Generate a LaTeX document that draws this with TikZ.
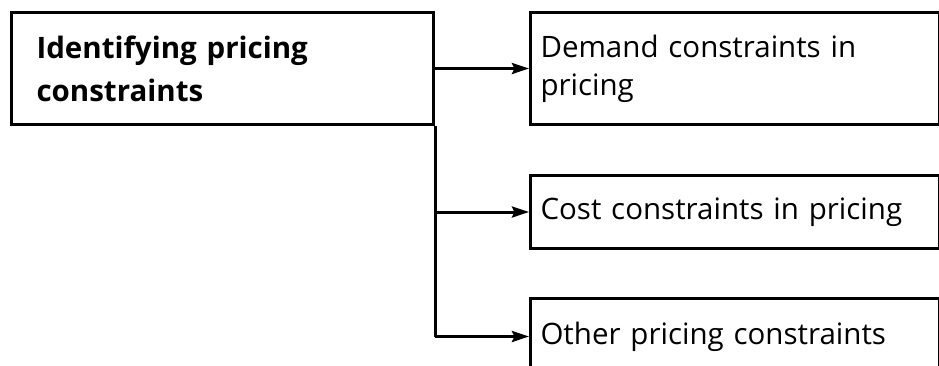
\documentclass[tikz,border=0pt]{standalone}
\usepackage{fontspec}
\setmainfont{Open Sans}
\usetikzlibrary{arrows.meta}
\begin{document}
\begin{tikzpicture}[x=1pt,y=-1pt,
  frame/.style={draw, line width=3pt, anchor=north west, align=left,
    font=\fontsize{29.5}{38}\selectfont, inner ysep=0pt},
  mainbox/.style={frame, font=\bfseries\fontsize{29.5}{43}\selectfont,
    inner xsep=25pt, text width=372pt, minimum width=422pt, minimum height=112pt},
  subbox/.style={frame, inner xsep=10pt, text width=389pt, minimum width=409pt},
  link/.style={line width=3pt, -{Stealth[length=17pt,width=11pt,inset=2.5pt]}},
  trunk/.style={line width=3pt}]
\useasboundingbox (0,0) rectangle (939,365);
\clip (0,0) rectangle (939,365);
\fill[white] (0,0) rectangle (939,365);

\node[mainbox] (id) at (10,11) {Identifying pricing\\constraints};
\node[subbox, minimum height=112pt] (dem) at (529,11) {Demand constraints in\\pricing};
\node[subbox, minimum height=73pt] (cst) at (529,174) {Cost constraints in pricing};
\node[subbox, minimum height=76pt] (oth) at (529,297) {Other pricing constraints};

\coordinate (fork) at (id.south east |- oth.west);
\draw[trunk] (id.south east) -- (fork);
\draw[link] (id.east |- dem.west) -- (dem.west);
\draw[link] (id.east |- cst.west) -- (cst.west);
\draw[link] (fork) -- (oth.west);
\end{tikzpicture}
\end{document}
